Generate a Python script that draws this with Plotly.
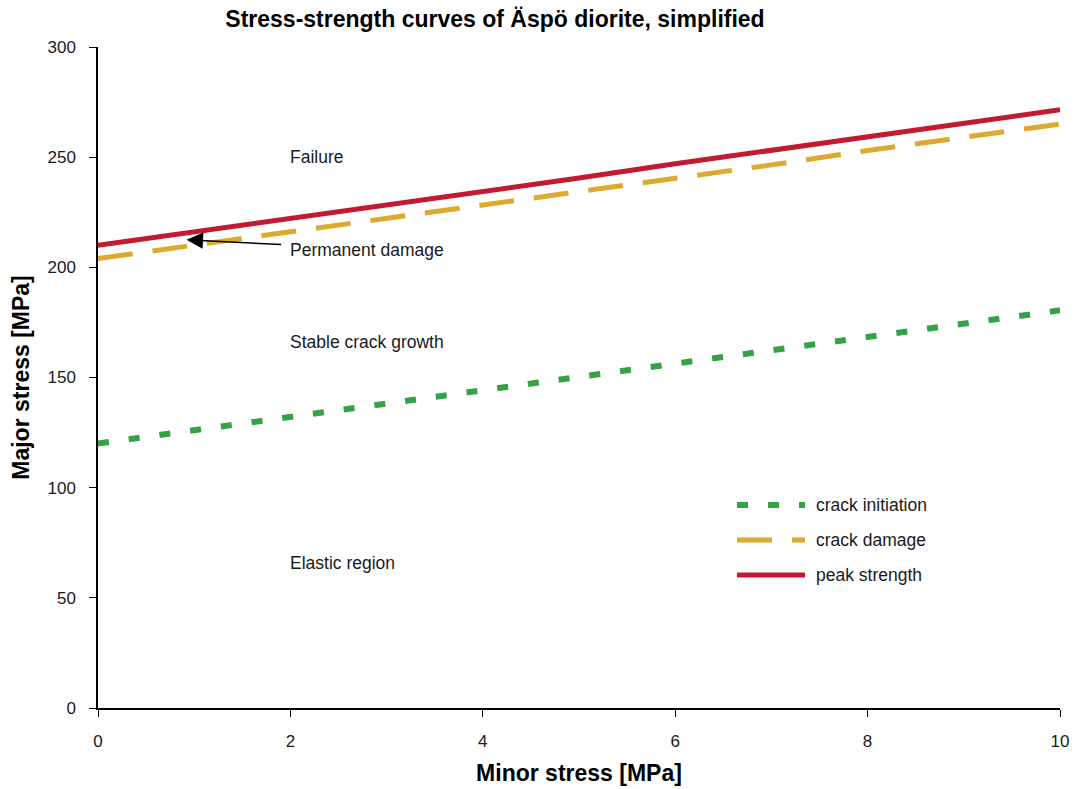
import plotly.graph_objects as go

# Stress-strength curves (major vs. minor principal stress), values in MPa
minor_stress = [0, 1, 2, 3, 4, 5, 6, 7, 8, 9, 10]
crack_initiation = [120, 126, 132, 138, 144, 150, 156, 162, 168, 174, 180.5]
crack_damage = [204, 210, 216, 222, 228, 234.5, 240.5, 246.5, 253, 259, 265]
peak_strength = [210, 216, 222, 228, 234, 240.5, 247, 253, 259, 265, 271.5]

series_names = ["crack initiation", "crack damage", "peak strength"]
series_colors = ["#35a345", "#dcaa2e", "#c21a30"]
series_dash = ["11px,20px", "35px,20px", "solid"]
series_width = [6, 5, 5]
series_values = [crack_initiation, crack_damage, peak_strength]

region_labels = ["Failure", "Permanent damage", "Stable crack growth", "Elastic region"]
region_label_y = [250, 208, 166, 66]

x_ticks = [0, 2, 4, 6, 8, 10]
y_ticks = [0, 50, 100, 150, 200, 250, 300]

FONT = "Liberation Sans, Arial, sans-serif"
TEXT = "#1a1a1a"

fig = go.Figure()
for name, vals, col, dash, w in zip(series_names, series_values, series_colors,
                                    series_dash, series_width):
    fig.add_trace(go.Scatter(
        x=minor_stress, y=vals, mode="lines", name=name,
        line=dict(color=col, dash=dash, width=w), showlegend=False,
        hoverinfo="x+y+name"))

annotations = []
for lab, yv in zip(region_labels, region_label_y):
    annotations.append(dict(x=1.97, y=yv, xref="x", yref="y", text=lab,
                            showarrow=False, xanchor="left", yanchor="middle",
                            font=dict(family=FONT, size=17.5, color=TEXT)))

# arrow pointing from the "Permanent damage" label onto the crack-damage band
annotations.append(dict(x=0.92, y=212.5, xref="x", yref="y", ax=1.92, ay=210.3,
                        axref="x", ayref="y", text="", showarrow=True,
                        arrowhead=2, arrowsize=2.2, arrowwidth=1.5,
                        arrowcolor="black"))

# legend drawn as line samples with labels
legend_y = [505, 540, 575]
shapes = []
for name, col, dash, w, py in zip(series_names, series_colors, series_dash,
                                  series_width, legend_y):
    shapes.append(dict(type="line", xref="paper", yref="paper",
                       x0=(737 - 98) / 962, x1=(805 - 98) / 962,
                       y0=(708 - py) / 661, y1=(708 - py) / 661,
                       line=dict(color=col, dash=dash, width=w)))
    annotations.append(dict(x=(814 - 98) / 962, y=(708 - py) / 661,
                            xref="paper", yref="paper", text=name,
                            showarrow=False, xanchor="left", yanchor="middle",
                            font=dict(family=FONT, size=17.5, color=TEXT)))

fig.update_layout(
    width=1075, height=789,
    margin=dict(l=98, r=15, t=47, b=81, autoexpand=False),
    paper_bgcolor="white", plot_bgcolor="white",
    font=dict(family=FONT, size=17, color=TEXT),
    title=dict(text="<b>Stress-strength curves of Äspö diorite, simplified</b>",
               x=495 / 1075, xanchor="center", xref="container",
               y=1 - 19 / 789, yanchor="middle", yref="container",
               font=dict(family=FONT, size=23, color="black")),
    annotations=annotations, shapes=shapes,
    showlegend=False,
)
fig.update_xaxes(
    range=[0, 10], tickvals=x_ticks, showgrid=False, zeroline=False,
    showline=True, linecolor="black", linewidth=1.5, automargin=False,
    ticks="outside", ticklen=7, tickcolor="black", tickwidth=1.2,
    ticklabelstandoff=10,
    title=dict(text="<b>Minor stress [MPa]</b>", standoff=15,
               font=dict(family=FONT, size=23, color="black")))
fig.update_yaxes(
    range=[0, 300], tickvals=y_ticks, showgrid=False, zeroline=False,
    showline=True, linecolor="black", linewidth=1.5, automargin=False,
    ticks="outside", ticklen=7, tickcolor="black", tickwidth=1.2,
    ticklabelstandoff=10,
    title=dict(text="<b>Major stress [MPa]</b>", standoff=11,
               font=dict(family=FONT, size=23, color="black")))

fig.write_html("out.html")
